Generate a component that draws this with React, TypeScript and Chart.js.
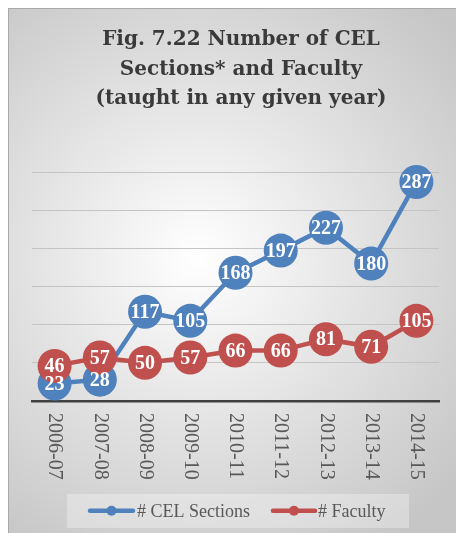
import React, { useEffect, useRef } from "react";
import { Chart, registerables } from "chart.js";

Chart.register(...registerables);

const categories = ["2006-07", "2007-08", "2008-09", "2009-10", "2010-11", "2011-12", "2012-13", "2013-14", "2014-15"];
const celSections = [23, 28, 117, 105, 168, 197, 227, 180, 287];
const faculty = [46, 57, 50, 57, 66, 66, 81, 71, 105];
const seriesNames = ["# CEL Sections", "# Faculty"];
const seriesColors = ["#4F81BD", "#C0504D"];
const titleLines = ["Fig. 7.22 Number of CEL", "Sections* and Faculty", "(taught in any given year)"];
const yMin = 0;
const yMax = 300;
const yStep = 50;

const W = 448;
const H = 525;

const bgPlugin = {
  id: "bgPlugin",
  beforeDraw(chart: any) {
    const ctx = chart.ctx;
    ctx.save();
    const g = ctx.createRadialGradient(190, 250, 0, 190, 250, 340);
    g.addColorStop(0, "#ffffff");
    g.addColorStop(1, "#c6c6c6");
    ctx.fillStyle = g;
    ctx.fillRect(0, 0, W, H);
    ctx.strokeStyle = "#a9a9a9";
    ctx.lineWidth = 1;
    ctx.strokeRect(0.5, 0.5, W + 5, H + 5);
    ctx.restore();
  },
};

const titlePlugin = {
  id: "titlePlugin",
  afterDraw(chart: any) {
    const ctx = chart.ctx;
    ctx.save();
    ctx.fillStyle = "#3a3a3a";
    ctx.font = "bold 20px 'DejaVu Serif'";
    ctx.textAlign = "center";
    ctx.textBaseline = "alphabetic";
    titleLines.forEach((t, i) => {
      ctx.fillText(t, 233, 37 + i * 29.5);
    });
    ctx.restore();
  },
};

const xLabelPlugin = {
  id: "xLabelPlugin",
  afterDraw(chart: any) {
    const ctx = chart.ctx;
    const xs = chart.scales.x;
    ctx.save();
    ctx.fillStyle = "#595959";
    ctx.font = "20px 'Liberation Serif'";
    ctx.textAlign = "left";
    ctx.textBaseline = "middle";
    categories.forEach((c, i) => {
      const x = xs.getPixelForValue(i);
      ctx.save();
      ctx.translate(x, chart.chartArea.bottom + 12);
      ctx.rotate(Math.PI / 2);
      ctx.fillText(c, 0, 0);
      ctx.restore();
    });
    ctx.restore();
  },
};

const dataLabelPlugin = {
  id: "dataLabelPlugin",
  afterDatasetsDraw(chart: any) {
    const ctx = chart.ctx;
    ctx.save();
    ctx.fillStyle = "#ffffff";
    ctx.font = "bold 20px 'Liberation Serif'";
    ctx.textAlign = "center";
    ctx.textBaseline = "middle";
    chart.data.datasets.forEach((ds: any, di: number) => {
      const meta = chart.getDatasetMeta(di);
      meta.data.forEach((pt: any, i: number) => {
        ctx.fillText(String(ds.data[i]), pt.x, pt.y + 1);
      });
    });
    ctx.restore();
  },
};

const legendPlugin = {
  id: "legendPlugin",
  afterDraw(chart: any) {
    const ctx = chart.ctx;
    ctx.save();
    ctx.fillStyle = "rgba(255,255,255,0.3)";
    ctx.fillRect(59, 486, 342, 34);
    ctx.font = "18px 'Liberation Serif'";
    ctx.textAlign = "left";
    ctx.textBaseline = "alphabetic";
    const items = [
      { x1: 82, x2: 125, tx: 129 },
      { x1: 265, x2: 307, tx: 310 },
    ];
    items.forEach((it, i) => {
      const y = 502.7;
      ctx.strokeStyle = seriesColors[i];
      ctx.lineWidth = 4.5;
      ctx.lineCap = "round";
      ctx.beginPath();
      ctx.moveTo(it.x1, y);
      ctx.lineTo(it.x2, y);
      ctx.stroke();
      ctx.fillStyle = seriesColors[i];
      ctx.beginPath();
      ctx.arc((it.x1 + it.x2) / 2, y, 5, 0, Math.PI * 2);
      ctx.fill();
      ctx.fillStyle = "#595959";
      ctx.fillText(seriesNames[i], it.tx, 509);
    });
    ctx.restore();
  },
};

export default function App() {
  const ref = useRef<HTMLCanvasElement | null>(null);
  useEffect(() => {
    if (!ref.current) return;
    const chart = new Chart(ref.current, {
      type: "line",
      data: {
        labels: categories,
        datasets: [
          {
            label: seriesNames[0],
            data: celSections,
            borderColor: seriesColors[0],
            backgroundColor: seriesColors[0],
            pointBackgroundColor: seriesColors[0],
            pointBorderColor: seriesColors[0],
            borderWidth: 4.5,
            pointRadius: 17,
            pointBorderWidth: 0,
            tension: 0,
            clip: false as any,
            order: 1,
          },
          {
            label: seriesNames[1],
            data: faculty,
            borderColor: seriesColors[1],
            backgroundColor: seriesColors[1],
            pointBackgroundColor: seriesColors[1],
            pointBorderColor: seriesColors[1],
            borderWidth: 4.5,
            pointRadius: 17,
            pointBorderWidth: 0,
            tension: 0,
            clip: false as any,
            order: 0,
          },
        ],
      },
      options: {
        responsive: false,
        animation: false,
        events: [],
        layout: { padding: { left: 24, right: 12, top: 164, bottom: 132 } },
        plugins: { legend: { display: false }, tooltip: { enabled: false }, title: { display: false } },
        scales: {
          x: {
            offset: true,
            grid: { display: false, drawTicks: false },
            ticks: { display: false },
            border: { display: true, color: "#404040", width: 2.5 },
          },
          y: {
            min: yMin,
            max: yMax,
            ticks: { display: false, stepSize: yStep },
            grid: { color: "#c4c4c4", lineWidth: 1, drawTicks: false },
            border: { display: false },
          },
        },
      },
      plugins: [bgPlugin, titlePlugin, xLabelPlugin, dataLabelPlugin, legendPlugin],
    });
    return () => chart.destroy();
  }, []);
  return (
    <canvas
      ref={ref}
      width={W}
      height={H}
      style={{ position: "absolute", left: 8, top: 8, width: W, height: H, display: "block" }}
    />
  );
}
